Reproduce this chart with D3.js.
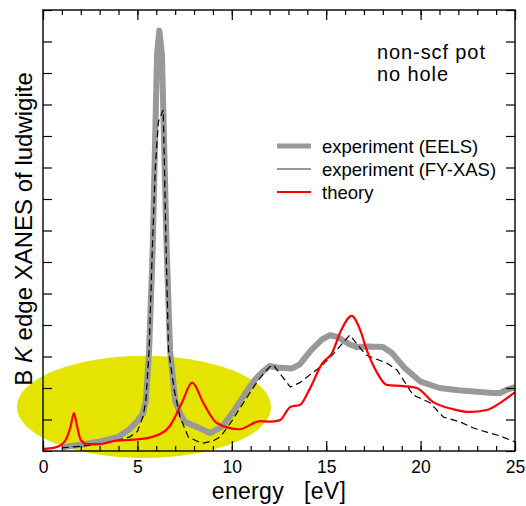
<!DOCTYPE html>
<html>
<head>
<meta charset="utf-8">
<script src="https://cdn.jsdelivr.net/npm/d3@7"></script>
<style>
  body { margin: 0; background: #fff; }
  text { font-family: "Liberation Sans", Arial, sans-serif; fill: #000; }
</style>
</head>
<body>
<div id="chart"></div>
<script>
// x axis ticks (energy, eV) and y ticks (no labels)
const xMajor = [0, 5, 10, 15, 20, 25];
const xMinor = d3.range(0, 26, 1);
const yTicks = d3.range(0, 15, 1);

// experiment (EELS) - thick gray
const eelsE = [1.0, 2.0, 3.0, 4.0, 4.6, 5.0, 5.3, 5.45, 5.62, 5.81, 6.04, 6.16, 6.3, 6.55, 6.73, 7.0, 7.26, 7.5, 8.2, 8.85, 9.5, 10.2, 10.8, 11.2, 11.6, 12.0, 12.4, 13.2, 13.6, 14.2, 14.8, 15.2, 15.6, 16.2, 16.6, 17.2, 18.0, 18.5, 19.1, 20.0, 21.0, 22.0, 23.0, 23.8, 24.2, 24.6, 25.0];
const eelsY = [0.12, 0.2, 0.3, 0.45, 0.7, 0.95, 1.2, 1.6, 3.2, 6.4, 12.6, 13.35, 12.6, 6.4, 3.2, 1.6, 1.2, 0.93, 0.75, 0.57, 0.78, 1.35, 1.9, 2.25, 2.5, 2.7, 2.65, 2.62, 2.75, 3.2, 3.55, 3.68, 3.62, 3.4, 3.3, 3.32, 3.3, 3.1, 2.67, 2.2, 2.0, 1.93, 1.88, 1.84, 1.84, 1.95, 2.03];

// experiment (FY-XAS) - thin dashed black
const fyE = [1.0, 2.0, 3.0, 4.0, 4.6, 5.0, 5.3, 5.45, 5.62, 5.79, 5.95, 6.11, 6.37, 6.52, 6.65, 6.95, 7.26, 7.7, 8.2, 8.5, 9.0, 9.4, 10.0, 10.8, 11.4, 12.0, 12.2, 13.1, 13.6, 14.2, 14.7, 15.4, 16.25, 17.1, 18.2, 18.75, 19.6, 20.5, 21.2, 22.1, 22.8, 23.5, 24.2, 25.0];
const fyY = [0.1, 0.15, 0.22, 0.35, 0.45, 0.62, 1.1, 1.6, 3.2, 6.4, 9.0, 10.45, 10.83, 6.4, 3.2, 1.94, 1.08, 0.44, 0.3, 0.25, 0.32, 0.45, 0.95, 1.7, 2.25, 2.67, 2.73, 2.03, 2.17, 2.45, 2.67, 3.1, 3.68, 3.05, 2.79, 2.57, 1.78, 1.53, 1.08, 0.92, 0.73, 0.6, 0.48, 0.29];

// theory - red
const thE = [0.0, 0.75, 1.2, 1.45, 1.64, 1.8, 2.0, 2.3, 3.0, 3.9, 4.8, 5.8, 6.7, 7.35, 7.9, 8.5, 9.2, 10.4, 11.5, 12.0, 12.55, 13.1, 13.6, 14.1, 14.8, 15.3, 15.8, 16.35, 16.8, 17.15, 17.7, 18.2, 19.1, 19.8, 20.65, 21.7, 22.6, 23.5, 24.2, 25.0];
const thY = [0.06, 0.13, 0.35, 0.75, 1.2, 0.8, 0.35, 0.22, 0.22, 0.33, 0.36, 0.45, 0.78, 1.52, 2.17, 1.52, 0.89, 0.69, 0.95, 0.93, 0.98, 1.4, 1.46, 1.94, 2.79, 3.1, 3.84, 4.29, 3.84, 3.2, 2.48, 2.1, 2.06, 2.0, 1.56, 1.33, 1.24, 1.3, 1.52, 1.87];

const seriesNames = ["experiment (EELS)", "experiment (FY-XAS)", "theory"];

const width = 526, height = 506;
const margin = { top: 10, right: 11, bottom: 55, left: 43 };

const svg = d3.select("#chart").append("svg")
  .attr("width", width)
  .attr("height", height);

const x = d3.scaleLinear().domain([0, 25]).range([margin.left, width - margin.right]);
const y = d3.scaleLinear().domain([0, 14]).range([height - margin.bottom, margin.top]);

// highlight ellipse (data units)
const hl = { cx: 5.35, cy: 1.4, rx: 6.73, ry: 1.62 };
svg.append("ellipse")
  .attr("cx", x(hl.cx))
  .attr("cy", y(hl.cy))
  .attr("rx", x(hl.rx) - x(0))
  .attr("ry", y(0) - y(hl.ry))
  .attr("fill", "#e4e400");

const zip = (a, b) => a.map((v, i) => [v, b[i]]);

const lineLin = d3.line().x(d => x(d[0])).y(d => y(d[1]));
const lineSmooth = d3.line().x(d => x(d[0])).y(d => y(d[1])).curve(d3.curveMonotoneX);

svg.append("path")
  .attr("d", lineLin(zip(eelsE, eelsY)))
  .attr("fill", "none")
  .attr("stroke", "#999")
  .attr("stroke-width", 6)
  .attr("stroke-linejoin", "round");

svg.append("path")
  .attr("d", lineLin(zip(fyE, fyY)))
  .attr("fill", "none")
  .attr("stroke", "#000")
  .attr("stroke-width", 1.2)
  .attr("stroke-dasharray", "7,4");

svg.append("path")
  .attr("d", lineSmooth(zip(thE, thY)))
  .attr("fill", "none")
  .attr("stroke", "#f00")
  .attr("stroke-width", 2.2);

// axes, ticks pointing inward
const y0 = height - margin.bottom;
function addAxis(axis, tx, ty) {
  const g = svg.append("g").attr("transform", `translate(${tx},${ty})`).call(axis);
  g.select(".domain").remove();
  g.selectAll(".tick line").attr("stroke", "#000").attr("stroke-width", 1.2);
  return g;
}

addAxis(d3.axisBottom(x).tickValues(xMinor).tickSize(-5).tickFormat(""), 0, y0);
addAxis(d3.axisTop(x).tickValues(xMinor).tickSize(-5).tickFormat(""), 0, margin.top);
addAxis(d3.axisTop(x).tickValues(xMajor).tickSize(-10).tickFormat(""), 0, margin.top);
const bx = addAxis(d3.axisBottom(x).tickValues(xMajor).tickSize(-10).tickPadding(10).tickFormat(d3.format("d")), 0, y0);
bx.selectAll("text")
  .style("font-family", '"Liberation Sans", Arial, sans-serif')
  .style("font-size", "17.5px")
  .attr("fill", "#000");

addAxis(d3.axisLeft(y).tickValues(yTicks).tickSize(-9).tickFormat(""), margin.left, 0);
addAxis(d3.axisRight(y).tickValues(yTicks).tickSize(-9).tickFormat(""), width - margin.right, 0);

svg.append("rect")
  .attr("x", margin.left)
  .attr("y", margin.top)
  .attr("width", width - margin.left - margin.right)
  .attr("height", height - margin.top - margin.bottom)
  .attr("fill", "none")
  .attr("stroke", "#000")
  .attr("stroke-width", 1.4);

// axis titles
svg.append("text")
  .attr("x", (margin.left + width - margin.right) / 2)
  .attr("y", 498.5)
  .attr("text-anchor", "middle")
  .style("font-size", "23px")
  .style("letter-spacing", "0.3px")
  .style("white-space", "pre")
  .text("energy   [eV]");

const yl = svg.append("text")
  .attr("transform", "translate(32,229) rotate(-90)")
  .attr("text-anchor", "middle")
  .style("font-size", "24px");
yl.append("tspan").text("B ");
yl.append("tspan").style("font-style", "italic").text("K");
yl.append("tspan").text(" edge XANES of ludwigite");

// annotation
svg.append("text").attr("x", 377).attr("y", 58.5)
  .style("font-size", "20px").style("letter-spacing", "0.9px").text("non-scf pot");
svg.append("text").attr("x", 377).attr("y", 80.5)
  .style("font-size", "20px").style("letter-spacing", "0.9px").text("no hole");

// legend
const legStyles = [
  { stroke: "#999", w: 5 },
  { stroke: "#333", w: 1.2 },
  { stroke: "#f00", w: 2.2 }
];
const leg = svg.append("g");
seriesNames.forEach((name, i) => {
  const ly = 146 + i * 23;
  leg.append("line")
    .attr("x1", 277).attr("x2", 311)
    .attr("y1", ly).attr("y2", ly)
    .attr("stroke", legStyles[i].stroke)
    .attr("stroke-width", legStyles[i].w);
  leg.append("text")
    .attr("x", 322).attr("y", ly + 7)
    .style("font-size", "18.5px")
    .text(name);
});
</script>
</body>
</html>
